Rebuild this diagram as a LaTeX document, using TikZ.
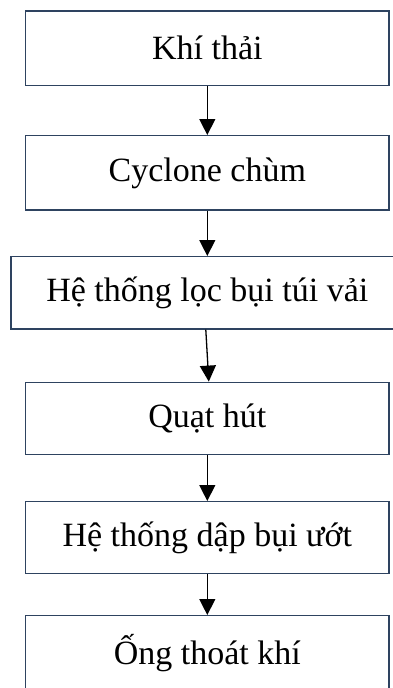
\documentclass[tikz,border=0pt]{standalone}
\usepackage{fontspec}
\setmainfont{Liberation Serif}
\usetikzlibrary{arrows.meta,calc}
\definecolor{boxcol}{HTML}{2E4360}
\tikzset{
  procbox/.style={draw=boxcol, line width=1.4pt, rectangle, inner sep=0pt,
    minimum width=363.3pt, font=\fontsize{34}{40}\selectfont, text=black},
  flow/.style={draw=black, line width=1.3pt, -{Triangle[length=16pt,width=16pt]}}
}
\begin{document}
\begin{tikzpicture}[x=1pt,y=-1pt]
\useasboundingbox (0,0) rectangle (393,688);
\clip (0,0) rectangle (393,688);
\node[procbox, minimum height=74.7pt] (b1) at (207.3,48.3) {Khí thải};
\node[procbox, minimum height=74.3pt] (b2) at (207.3,172.85) {Cyclone chùm};
\node[procbox, minimum height=72.3pt, minimum width=392.6pt] (b3) at (207.3,292.85) {Hệ thống lọc bụi túi vải};
\node[procbox, minimum height=72pt] (b4) at (207.3,418.3) {Quạt hút};
\node[procbox, minimum height=71.6pt] (b5) at (207.3,537.5) {Hệ thống dập bụi ướt};
\node[procbox, minimum height=74pt] (b6) at (207.3,652.7) {Ống thoát khí};
\draw[flow] (b1.south) -- (b2.north);
\draw[flow] (b2.south) -- (b3.north);
\draw[flow] ($(b3.south)+(-1.5,0)$) -- ($(b4.north)+(1.5,0)$);
\draw[flow] (b4.south) -- (b5.north);
\draw[flow] (b5.south) -- (b6.north);
\end{tikzpicture}
\end{document}
